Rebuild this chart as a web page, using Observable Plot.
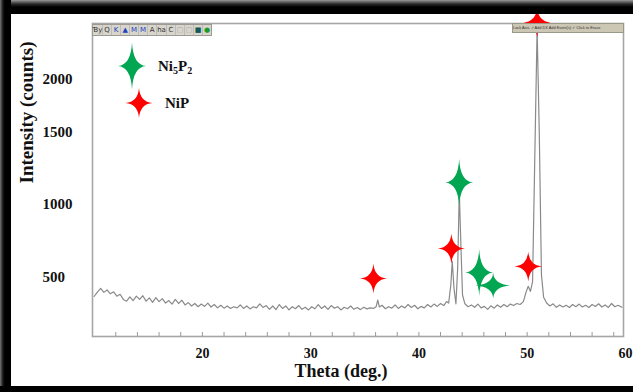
<!DOCTYPE html>
<html><head><meta charset="utf-8">
<script src="https://cdn.jsdelivr.net/npm/d3@7"></script>
<script src="https://cdn.jsdelivr.net/npm/@observablehq/plot@0.6"></script>
<style>
html,body{margin:0;padding:0;background:#fff;width:633px;height:392px;overflow:hidden;}
#wrap{position:relative;width:633px;height:392px;font-family:"Liberation Serif","Times New Roman",serif;}
#chart,#legend{position:absolute;left:0;top:0;}
.band{position:absolute;}
#tb{position:absolute;left:92px;top:24px;width:118px;height:10px;background:#d8d5cc;border:1px solid #9c9a92;display:flex;align-items:center;font:7px "DejaVu Sans",sans-serif;color:#333;}
#tb span{display:inline-block;width:9px;text-align:center;line-height:10px;border-right:1px solid #bbb;}
#tr{position:absolute;left:512px;top:23px;width:110px;height:8px;background:#cbc7b4;border:1px solid #9a9888;font:3.9px "Liberation Sans",sans-serif;color:#333;line-height:8px;white-space:nowrap;overflow:hidden;}
</style></head><body>
<div id="wrap">
<div id="chart"></div>
<svg id="legend" width="633" height="392"></svg>
<div id="tb"><span>Ɓy</span><span>Q</span><span style="color:#2040c0">K</span><span style="color:#2040c0">▲</span><span style="color:#2040c0">M</span><span style="color:#2040c0">M</span><span>A</span><span>ha</span><span>C</span><span style="color:#aaa">□</span><span style="color:#aaa">□</span><span style="color:#105a5a">■</span><span style="color:#1a9a2a;border:none">●</span></div>
<div id="tr">Lock Axis ✓ Add DX Add Event(s) ✓ Click to Erase</div>
<div class="band" style="left:0;top:0;width:633px;height:14px;background:linear-gradient(#9a9a9a,#2a2a2a 4px,#000 7px)"></div>
<div class="band" style="left:0;top:0;width:11px;height:392px;background:linear-gradient(to right,#777,#151515 3px,#000 5px)"></div>
<div class="band" style="left:0;top:386px;width:633px;height:6px;background:#000"></div>
</div>
<script>
// XRD trace
const theta = [10.0,10.3,10.6,10.9,11.2,11.5,11.8,12.1,12.4,12.7,13.0,13.3,13.6,13.9,14.2,14.5,14.8,15.1,15.4,15.7,16.0,16.3,16.6,16.9,17.2,17.5,17.8,18.1,18.4,18.7,19.0,19.3,19.6,19.9,20.2,20.5,20.8,21.1,21.4,21.7,22.0,22.3,22.6,22.9,23.2,23.5,23.8,24.1,24.4,24.7,25.0,25.3,25.6,25.9,26.2,26.5,26.8,27.1,27.4,27.7,28.0,28.3,28.6,28.9,29.2,29.5,29.8,30.1,30.4,30.7,31.0,31.3,31.6,31.9,32.2,32.5,32.8,33.1,33.4,33.7,34.0,34.3,34.6,34.9,35.2,35.5,35.8,36.05,36.2,36.35,36.6,36.9,37.2,37.5,37.8,38.1,38.4,38.7,39.0,39.3,39.6,39.9,40.2,40.5,40.8,41.1,41.4,41.7,42.0,42.3,42.55,42.75,42.95,43.08,43.25,43.42,43.58,43.73,43.88,44.03,44.25,44.55,44.85,45.15,45.45,45.75,46.05,46.35,46.65,46.95,47.25,47.55,47.85,48.15,48.45,48.75,49.05,49.35,49.65,49.9,50.1,50.3,50.5,50.7,50.92,51.12,51.32,51.52,51.8,52.1,52.4,52.7,53.0,53.3,53.6,53.9,54.2,54.5,54.8,55.1,55.4,55.7,56.0,56.3,56.6,56.9,57.2,57.5,57.8,58.1,58.4,58.75];
const counts = [370,400,425,398,415,388,402,372,385,350,338,368,342,372,350,375,338,360,330,362,335,355,325,342,318,350,322,345,312,328,305,322,300,318,302,325,298,315,292,310,290,305,288,300,292,312,288,305,285,300,292,320,295,308,282,305,280,315,288,305,278,300,286,308,282,296,278,300,286,315,288,305,282,308,290,300,278,296,286,305,282,294,280,296,285,292,288,300,345,298,310,286,300,290,312,288,305,292,315,295,310,286,302,292,315,298,318,302,322,308,335,325,450,610,420,320,560,1090,720,380,320,300,312,296,318,292,302,282,306,290,312,296,315,300,318,308,322,315,335,400,440,405,470,1300,2480,1500,520,365,325,305,320,296,312,298,310,295,315,300,318,298,310,295,315,302,320,298,312,295,322,300,310,296];

// peak markers
const nipTheta = [35.8, 43.0, 50.1, 50.92];
const nipCounts = [493, 699, 575, 2538];
const ni5p2Theta = [43.72, 45.57, 46.86];
const ni5p2Counts = [1153, 534, 445];

// ticks
const xTicks = [20, 30, 40, 50];
const xTickEnd = [60];
const xMinor = [12,14,16,18,20,22,24,26,28,30,32,34,36,38,40,42,44,46,48,50,52,54,56,58];
const yTicks = [500, 1000, 1500, 2000];
// hand-drawn intensity axis of the original (uneven label spacing)
const yAxisValues = [96, 500, 1000, 1500, 2000, 2528];

const serif = "Liberation Serif, Times New Roman, serif";

function sparkle(wk, hk) {
  return {draw(ctx, size) {
    const r = Math.sqrt(size / Math.PI);
    const a = r * wk, b = r * hk, c = r * 0.11;
    ctx.moveTo(0, -b);
    ctx.quadraticCurveTo(c, -c, a, 0);
    ctx.quadraticCurveTo(c, c, 0, b);
    ctx.quadraticCurveTo(-c, c, -a, 0);
    ctx.quadraticCurveTo(-c, -c, 0, -b);
    ctx.closePath();
  }};
}
const greenTall = sparkle(1.4, 2.35);
const greenWide = sparkle(1.75, 1.25);
const redStar = sparkle(1.35, 1.5);
const GREEN = "#00a651", RED = "#ff0000";

const trace = theta.map((t, i) => ({t, c: counts[i]}));
const nip = nipTheta.map((t, i) => ({t, c: nipCounts[i]}));
const ni5 = ni5p2Theta.map((t, i) => ({t, c: ni5p2Counts[i]}));

const chart = Plot.plot({
  width: 633, height: 392,
  marginLeft: 92, marginRight: 10, marginTop: 23, marginBottom: 56,
  style: {background: "transparent", overflow: "visible"},
  x: {type: "linear", domain: [9.85, 58.9], range: [92, 623]},
  y: {type: "linear", domain: yAxisValues, range: [336, 277, 204, 132, 79, 23]},
  marks: [
    Plot.frame({stroke: "#a6a6a6", strokeWidth: 1.6}),
    Plot.tickX(xMinor, {x: d => d, insetTop: 309, stroke: "#9a9a9a", strokeWidth: 1}),
    Plot.line(trace, {x: "t", y: "c", stroke: "#8a8a8a", strokeWidth: 1.2}),
    Plot.dot(ni5.slice(0, 2), {x: "t", y: "c", r: 10, symbol: greenTall, fill: GREEN, stroke: "none"}),
    Plot.dot(ni5.slice(2), {x: "t", y: "c", r: 10, symbol: greenWide, fill: GREEN, stroke: "none"}),
    Plot.dot(nip, {x: "t", y: "c", r: 10, symbol: redStar, fill: RED, stroke: "none"}),
    Plot.axisY(yTicks, {anchor: "left", tickSize: 0, tickPadding: 50, textAnchor: "start", tickFormat: d => String(d), fontSize: 15, fontWeight: "bold", fontFamily: serif, fill: "#111", label: null}),
    Plot.axisX(xTicks, {anchor: "bottom", tickSize: 0, tickPadding: 12, tickFormat: d => String(d), fontSize: 14, fontWeight: "bold", fontFamily: serif, fill: "#111", label: null}),
    Plot.axisX(xTickEnd, {anchor: "bottom", tickSize: 0, tickPadding: 12, tickFormat: d => String(d), dx: -10, fontSize: 14, fontWeight: "bold", fontFamily: serif, fill: "#111", label: null}),
    Plot.text(["Theta (deg.)"], {frameAnchor: "bottom", dx: -17, dy: 40, fontSize: 18, fontWeight: "bold", fontFamily: serif, fill: "#111"}),
    Plot.text(["Intensity (counts)"], {frameAnchor: "left", rotate: -90, dx: -66, dy: 3.5, fontSize: 19, fontWeight: "bold", fontFamily: serif, fill: "#111"})
  ]
});
document.getElementById("chart").appendChild(chart);

// legend
const lg = d3.select("#legend");
const legendItems = [
  {sym: greenTall, color: GREEN, cx: 132, cy: 66, tx: 158, parts: [["Ni", 0], ["5", 1], ["P", 0], ["2", 1]]},
  {sym: redStar, color: RED, cx: 139, cy: 103, tx: 165, parts: [["NiP", 0]]}
];
for (const it of legendItems) {
  lg.append("path").attr("transform", `translate(${it.cx},${it.cy})`)
    .attr("d", d3.symbol(it.sym, 100 * Math.PI)()).attr("fill", it.color);
  const t = lg.append("text").attr("x", it.tx).attr("y", it.cy + 5)
    .attr("font-family", serif).attr("font-weight", "bold").attr("font-size", 15).attr("fill", "#111");
  let prev = 0;
  for (const [s, sub] of it.parts) {
    t.append("tspan").text(s).attr("font-size", sub ? 10 : 15).attr("dy", (sub - prev) * 3);
    prev = sub;
  }
}
</script>
</body></html>
